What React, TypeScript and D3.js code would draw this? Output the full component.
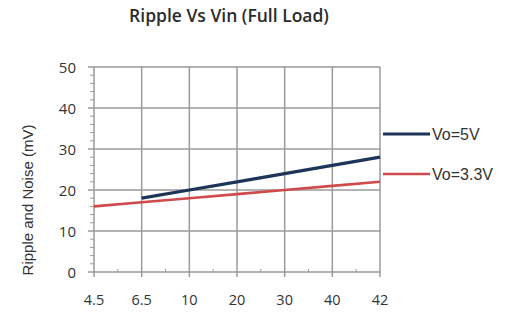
import React from "react";
import * as d3 from "d3";

const categories = ["4.5", "6.5", "10", "20", "30", "40", "42"];
const vo5Values: (number | null)[] = [null, 18, 20, 22, 24, 26, 28];
const vo33Values: (number | null)[] = [16, 17, 18, 19, 20, 21, 22];
const yTicks = [0, 10, 20, 30, 40, 50];
const seriesNames = ["Vo=5V", "Vo=3.3V"];

export default function App() {
  const W = 510, H = 313;
  const left = 94, right = 380, top = 67, bottom = 272;
  const x = d3.scalePoint<string>().domain(categories).range([left, right]);
  const y = d3.scaleLinear().domain([0, 50]).range([bottom, top]);
  const line = d3
    .line<number | null>()
    .defined((d) => d !== null)
    .x((_, i) => x(categories[i]) as number)
    .y((d) => y(d as number));
  const grid = "#9a9a9a";
  const minorY = d3.range(0, 50, 2).filter((v) => v % 10 !== 0);
  const step = x.step();
  const series = [
    { name: seriesNames[0], values: vo5Values, color: "#1c3558", w: 3.2, ly: 134 },
    { name: seriesNames[1], values: vo33Values, color: "#d0494b", w: 2.6, ly: 174 },
  ];
  return (
    <svg width={W} height={H} style={{ position: "absolute", left: 0, top: 0 }}>
      <rect width={W} height={H} fill="#fff" />
      <text x={229} y={22} textAnchor="middle" fontFamily="Open Sans" fontWeight={600} fontSize={17.5} fill="#2b2b2b">
        Ripple Vs Vin (Full Load)
      </text>
      {yTicks.map((t) => (
        <line key={"h" + t} x1={left - 6} x2={right} y1={y(t)} y2={y(t)} stroke={grid} strokeWidth={1.5} />
      ))}
      {categories.map((c) => (
        <line key={"v" + c} x1={x(c)} x2={x(c)} y1={top} y2={bottom + 5} stroke={grid} strokeWidth={1.5} />
      ))}
      {minorY.map((t) => (
        <line key={"my" + t} x1={left - 4} x2={left} y1={y(t)} y2={y(t)} stroke={grid} strokeWidth={1} />
      ))}
      {categories.slice(0, -1).map((c) => (
        <line key={"mx" + c} x1={(x(c) as number) + step / 2} x2={(x(c) as number) + step / 2} y1={bottom} y2={bottom - 3} stroke={grid} strokeWidth={1} />
      ))}
      {yTicks.map((t) => (
        <text key={"yl" + t} x={76} y={y(t) + 5.5} textAnchor="end" fontFamily="Open Sans" fontSize={15} fill="#333">
          {t}
        </text>
      ))}
      {categories.map((c) => (
        <text key={"xl" + c} x={x(c)} y={305} textAnchor="middle" fontFamily="Open Sans" fontSize={14.5} fill="#333">
          {c}
        </text>
      ))}
      <text transform={`translate(33,200) rotate(-90)`} textAnchor="middle" fontFamily="Liberation Sans" fontSize={15} fill="#333">
        Ripple and Noise (mV)
      </text>
      {series.map((s) => (
        <g key={s.name}>
          <path d={line(s.values) || ""} fill="none" stroke={s.color} strokeWidth={s.w} />
          <line x1={383} x2={430} y1={s.ly} y2={s.ly} stroke={s.color} strokeWidth={s.w} />
          <text x={432} y={s.ly + 6} fontFamily="Liberation Sans" fontSize={16} fill="#333">
            {s.name}
          </text>
        </g>
      ))}
    </svg>
  );
}
